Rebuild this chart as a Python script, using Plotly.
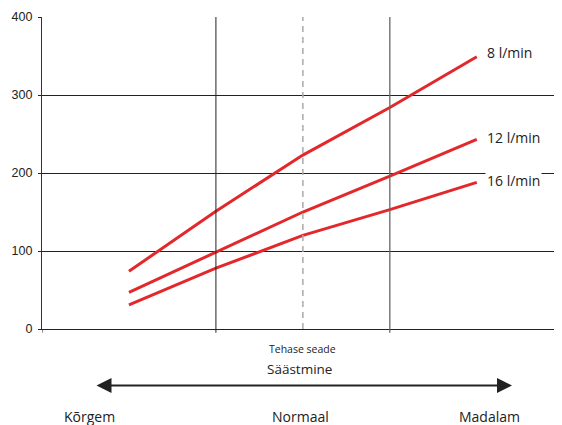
import plotly.graph_objects as go

# x positions: 0 = left axis, 1 and 2 = solid vertical lines, 1.5 = factory setting (dashed)
x_pos = [0.5, 1.0, 1.5, 2.0, 2.5]
flow_8 = [74, 151, 223, 284, 349]
flow_12 = [47, 98, 150, 196, 243]
flow_16 = [31, 78, 120, 153, 188]
series_names = ["8 l/min", "12 l/min", "16 l/min"]
label_y = [355, 245, 190]
y_ticks = [0, 100, 200, 300, 400]
bottom_labels = ["Kõrgem", "Normaal", "Madalam"]

RED = "#e3282c"
TXT = "#222222"
W, H = 562, 425
OFF = 8  # page body offset
ML, MR, MT, MB = 34, 8, 9, 104
PW, PH = W - ML - MR, H - MT - MB

def px_x(p):
    return (p - OFF - ML) / PW

def px_y(p):
    return (H - MB - (p - OFF)) / PH

fig = go.Figure()
for vals in [flow_8, flow_12, flow_16]:
    fig.add_trace(go.Scatter(x=x_pos, y=vals, mode="lines",
                             line=dict(color=RED, width=3), showlegend=False,
                             hoverinfo="skip"))

shapes = [
    dict(type="line", xref="x", yref="paper", x0=1, x1=1, y0=-0.012, y1=1,
         line=dict(color="#222222", width=1)),
    dict(type="line", xref="x", yref="paper", x0=2, x1=2, y0=-0.012, y1=1,
         line=dict(color="#666666", width=1.3)),
    dict(type="line", xref="x", yref="paper", x0=1.5, x1=1.5, y0=0, y1=1,
         line=dict(color="#aaaaaa", width=1.5, dash="6px,5px")),
    dict(type="line", xref="x", yref="paper", x0=0, x1=0, y0=-0.012, y1=0,
         line=dict(color="#222222", width=1)),
]

annotations = []
for name, yv in zip(series_names, label_y):
    annotations.append(dict(x=px_x(485), xref="paper", y=yv, yref="y",
                            text=name, showarrow=False, xanchor="left",
                            yanchor="middle",
                            bgcolor="white" if name == "16 l/min" else None,
                            borderpad=1,
                            font=dict(family="Open Sans", size=14, color=TXT)))

annotations.append(dict(x=1.5, xref="x", y=px_y(349), yref="paper",
                        text="Tehase seade", showarrow=False,
                        xanchor="center", yanchor="middle",
                        font=dict(family="Open Sans", size=10.5, color=TXT)))
annotations.append(dict(x=px_x(299), xref="paper", y=px_y(369), yref="paper",
                        text="Säästmine", showarrow=False,
                        xanchor="center", yanchor="middle",
                        font=dict(family="Open Sans", size=13.5, color=TXT)))
annotations.append(dict(x=px_x(512), xref="paper", y=px_y(385.5), yref="paper",
                        ax=-(512 - 95), ay=0, axref="pixel", ayref="pixel",
                        text="", showarrow=True, arrowside="end+start",
                        arrowhead=2, arrowsize=1.5, arrowwidth=2,
                        arrowcolor="#222222"))
for lab, cx in zip(bottom_labels, [89, 300, 489]):
    annotations.append(dict(x=px_x(cx), xref="paper", y=px_y(417), yref="paper",
                            text=lab, showarrow=False,
                            xanchor="center", yanchor="middle",
                            font=dict(family="Open Sans", size=14, color=TXT)))

fig.update_layout(
    width=W, height=H,
    margin=dict(l=ML, r=MR, t=MT, b=MB, autoexpand=False),
    plot_bgcolor="white", paper_bgcolor="white",
    shapes=shapes, annotations=annotations,
    xaxis=dict(range=[0, 2.99], showgrid=False, zeroline=False, showticklabels=False,
               showline=True, linecolor="#222222", linewidth=1, mirror=False,
               automargin=False, fixedrange=True),
    yaxis=dict(range=[0, 400], tickvals=y_ticks, showgrid=True,
               gridcolor="#222222", gridwidth=1, zeroline=False,
               showline=True, linecolor="#333333", linewidth=1.3,
               ticks="outside", ticklen=3, tickcolor="#222222",
               tickfont=dict(family="Liberation Sans", size=12.5, color=TXT),
               ticklabelstandoff=3, automargin=False, fixedrange=True),
)

fig.write_html("out.html")
